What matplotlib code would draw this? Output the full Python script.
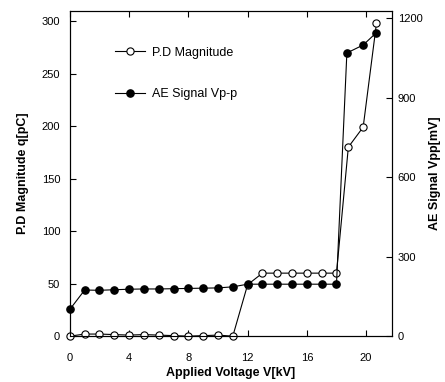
import matplotlib
matplotlib.use('Agg')
import matplotlib.pyplot as plt

plt.rcParams['font.family'] = ['Liberation Sans', 'DejaVu Sans']

# P.D magnitude (left axis, pC)
pd_volt = [0, 1, 2, 3, 4, 5, 6, 7, 8, 9, 10, 11, 12, 13, 14, 15, 16, 17, 18, 18.8, 19.8, 20.7]
pd_mag = [0, 2, 2, 1.5, 1, 1.5, 1, 0.5, 0, 0.5, 1, 0, 49, 60, 60, 60, 60, 60, 60, 180, 199, 298]

# AE signal (right axis, mV)
ae_volt = [0, 1, 2, 3, 4, 5, 6, 7, 8, 9, 10, 11, 12, 13, 14, 15, 16, 17, 18, 18.7, 19.8, 20.7]
ae_sig = [101, 174, 173, 175, 177, 178, 178, 179, 180, 181, 182, 186, 196, 196, 196, 196, 196, 196, 196, 1068, 1098, 1145]

x_ticks = [0, 4, 8, 12, 16, 20]
left_ticks = [0, 50, 100, 150, 200, 250, 300]
right_ticks = [0, 300, 600, 900, 1200]

fig = plt.figure(figsize=(4.45, 3.82), dpi=100)
ax = fig.add_axes([0.157, 0.120, 0.724, 0.851])
ax2 = ax.twinx()

l1, = ax.plot(pd_volt, pd_mag, '-o', color='k', lw=0.8, markersize=5.2,
              markerfacecolor='white', markeredgecolor='k', markeredgewidth=0.8,
              clip_on=False, zorder=3, label='P.D Magnitude')
l2, = ax2.plot(ae_volt, ae_sig, '-o', color='k', lw=0.8, markersize=5.2,
               markerfacecolor='k', markeredgecolor='k',
               clip_on=False, zorder=3, label='AE Signal Vp-p')

ax.set_xlim(0, 21.75)
ax.set_ylim(0, 309.5)
ax2.set_ylim(0, 1226)
ax.set_xticks(x_ticks)
ax.set_yticks(left_ticks)
ax2.set_yticks(right_ticks)

ax.tick_params(axis='x', direction='in', top=True, length=4, width=0.8, labelsize=8, pad=12)
ax.tick_params(axis='y', direction='in', length=4, width=0.8, labelsize=8, pad=7)
ax2.tick_params(axis='y', direction='in', length=4, width=0.8, labelsize=8, pad=4)

for a in (ax, ax2):
    for s in a.spines.values():
        s.set_linewidth(0.8)

ax.set_xlabel('Applied Voltage V[kV]', fontsize=9, fontweight='bold', labelpad=3)
ax.set_ylabel('P.D Magnitude q[pC]', fontsize=9, fontweight='bold', labelpad=9)
ax2.set_ylabel('AE Signal Vpp[mV]', fontsize=9, fontweight='bold', labelpad=5)

ax.legend([l1, l2], ['P.D Magnitude', 'AE Signal Vp-p'], loc='upper left',
          bbox_to_anchor=(0.105, 0.925), frameon=False, fontsize=9,
          labelspacing=2.35, handlelength=2.4, handletextpad=0.6)

fig.savefig('out.png', dpi=100)
